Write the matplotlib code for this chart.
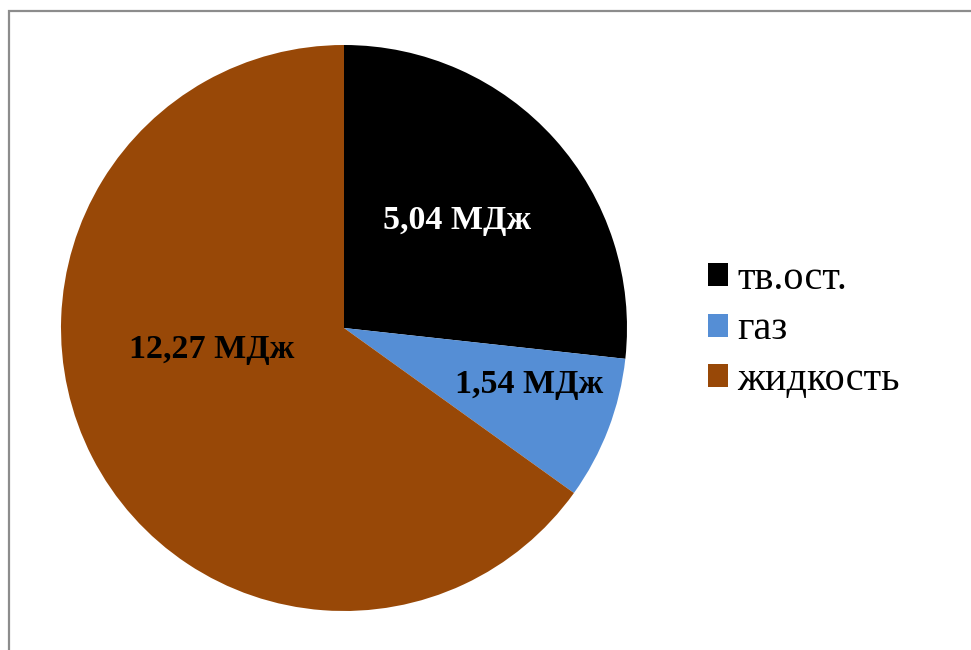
import matplotlib
matplotlib.use("Agg")
import matplotlib.pyplot as plt
from matplotlib.patches import Rectangle

plt.rcParams['font.family'] = ['Liberation Serif', 'DejaVu Serif']

categories = ["тв.ост.", "газ", "жидкость"]
values = [5.04, 1.54, 12.27]
value_labels = ["5,04 МДж", "1,54 МДж", "12,27 МДж"]
colors = ["#000000", "#558ED5", "#984807"]
label_colors = ["white", "black", "black"]

fig = plt.figure(figsize=(9.71, 6.5), dpi=100)

# outer chart frame (runs off the right and bottom edges)
fig.patches.append(Rectangle((9 / 971, -0.1), 1.2, (650 - 11) / 650 + 0.1,
                             transform=fig.transFigure, fill=False,
                             edgecolor="#8c8c8c", linewidth=1.6))

ax = fig.add_axes([61 / 971, 39 / 650, 566 / 971, 566 / 650])
wedges, _ = ax.pie(values, colors=colors, startangle=90, counterclock=False,
                   radius=1.0, wedgeprops=dict(linewidth=0))
ax.set_xlim(-1, 1)
ax.set_ylim(-1, 1)
ax.set_aspect("equal")

# value labels inside the wedges
label_pos = [(0.40, 0.38), (0.655, -0.20), (-0.466, -0.075)]
for (x, y), txt, c in zip(label_pos, value_labels, label_colors):
    ax.text(x, y, txt, ha="center", va="center", fontsize=24.5,
            fontweight="bold", color=c)

leg = fig.legend(wedges, categories, loc="upper left",
                 bbox_to_anchor=(692 / 971, 1 - 245 / 650), frameon=False,
                 fontsize=29, handlelength=0.5, handleheight=0.5,
                 handletextpad=0.22, labelspacing=0.33, borderaxespad=0)

fig.savefig("out.png", dpi=100)
